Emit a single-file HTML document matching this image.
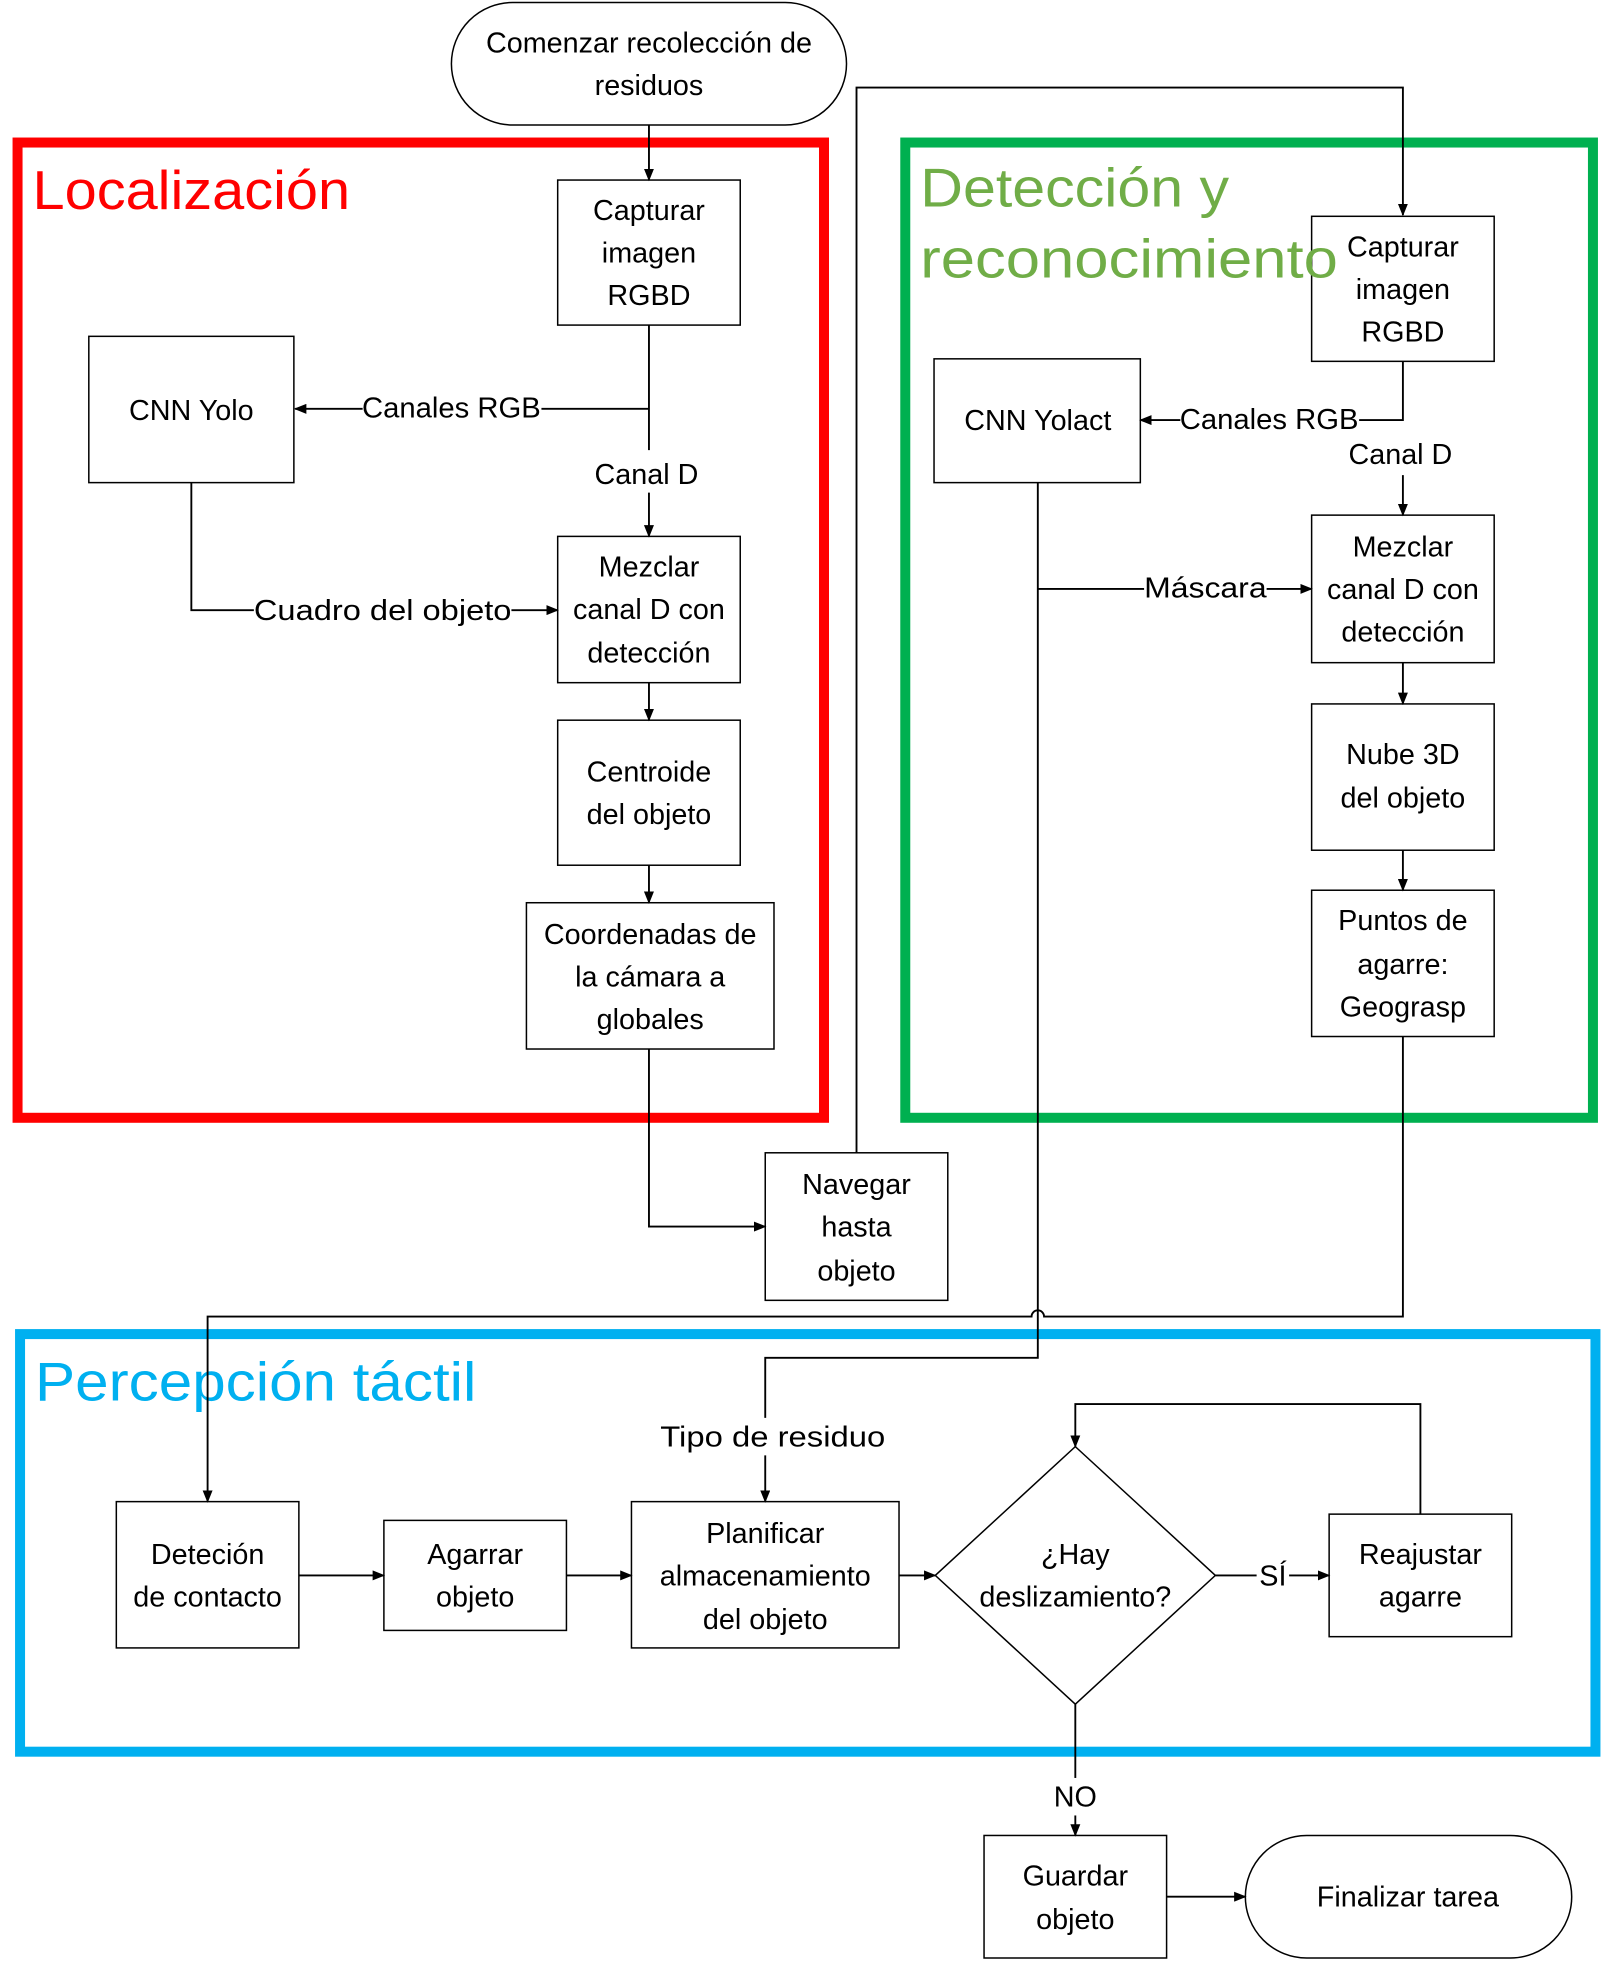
<!DOCTYPE html>
<html><head><meta charset="utf-8"><style>html,body{margin:0;padding:0;background:#fff}svg{display:block}</style></head><body>
<svg width="1608" height="1968" viewBox="0 0 1286 1574" xmlns="http://www.w3.org/2000/svg" font-family="Liberation Sans, sans-serif">
<defs><marker id="a" markerWidth="10" markerHeight="8" refX="9" refY="4" orient="auto" markerUnits="userSpaceOnUse"><path d="M0,0 L10,4 L0,8z" fill="#000"/></marker></defs>
<g fill="none" stroke-width="8">
<rect x="14" y="114" width="645" height="780" stroke="#ff0000"/>
<rect x="724" y="114" width="550" height="780" stroke="#00b050"/>
<rect x="16" y="1067" width="1260" height="334" stroke="#00b0f0"/>
</g>
<g fill="#fff" stroke="#000" stroke-width="1.2">
<rect x="361" y="2" width="316" height="98" rx="49"/>
<rect x="446" y="144" width="146" height="116"/>
<rect x="71" y="269" width="164" height="117"/>
<rect x="446" y="429" width="146" height="117"/>
<rect x="446" y="576" width="146" height="116"/>
<rect x="421" y="722" width="198" height="117"/>
<rect x="612" y="922" width="146" height="118"/>
<rect x="1049" y="173" width="146" height="116"/>
<rect x="747" y="287" width="165" height="99"/>
<rect x="1049" y="412" width="146" height="118"/>
<rect x="1049" y="563" width="146" height="117"/>
<rect x="1049" y="712" width="146" height="117"/>
<rect x="93" y="1201" width="146" height="117"/>
<rect x="307" y="1216" width="146" height="88"/>
<rect x="505" y="1201" width="214" height="117"/>
<polygon points="860,1157 972,1260 860,1363 748,1260"/>
<rect x="1063" y="1211" width="146" height="98"/>
<rect x="787" y="1468" width="146" height="98"/>
<rect x="996" y="1468" width="261" height="98" rx="49"/>
</g>
<g font-size="44">
<text x="26" y="167" fill="#ff0000" textLength="254" lengthAdjust="spacingAndGlyphs">Localización</text>
<text x="736" y="165" fill="#70ad47" textLength="247" lengthAdjust="spacingAndGlyphs">Detección y</text>
<text x="736" y="222" fill="#70ad47" textLength="334" lengthAdjust="spacingAndGlyphs">reconocimiento</text>
<text x="28" y="1120" fill="#00b0f0" textLength="353" lengthAdjust="spacingAndGlyphs">Percepción táctil</text>
</g>
<g fill="none" stroke="#000" stroke-width="1.5">
<path d="M519 100V144" marker-end="url(#a)"/>
<path d="M519 260V360M519 394V429" marker-end="url(#a)"/>
<path d="M519 327H236" marker-end="url(#a)"/>
<path d="M153 386V488H446" marker-end="url(#a)"/>
<path d="M519 546V576" marker-end="url(#a)"/>
<path d="M519 692V722" marker-end="url(#a)"/>
<path d="M519 839V981H612" marker-end="url(#a)"/>
<path d="M685 922V70H1122V172" marker-end="url(#a)"/>
<path d="M1122 289V336H912" marker-end="url(#a)"/>
<path d="M1122 380V412" marker-end="url(#a)"/>
<path d="M830 471H1049" marker-end="url(#a)"/>
<path d="M1122 530V563" marker-end="url(#a)"/>
<path d="M1122 680V712" marker-end="url(#a)"/>
<path d="M1122 829V1053H835A5 5 0 0 0 825 1053H166V1201" marker-end="url(#a)"/>
<path d="M830 386V1086H612V1201" marker-end="url(#a)"/>
<path d="M239 1260H307" marker-end="url(#a)"/>
<path d="M453 1260H505" marker-end="url(#a)"/>
<path d="M719 1260H748" marker-end="url(#a)"/>
<path d="M972 1260H1063" marker-end="url(#a)"/>
<path d="M1136 1211V1123H860V1157" marker-end="url(#a)"/>
<path d="M860 1363V1468" marker-end="url(#a)"/>
<path d="M933 1517H996" marker-end="url(#a)"/>
</g>
<g font-size="23" text-anchor="middle" fill="#000">
<rect x="290" y="312" width="143" height="28" fill="#fff"/>
<text x="361" y="334" textLength="143" lengthAdjust="spacingAndGlyphs">Canales RGB</text>
<rect x="470" y="362" width="95" height="30" fill="#fff"/>
<text x="517" y="387">Canal D</text>
<rect x="203" y="474" width="206" height="28" fill="#fff"/>
<text x="306" y="496" textLength="206" lengthAdjust="spacingAndGlyphs">Cuadro del objeto</text>
<rect x="944" y="321" width="143" height="28" fill="#fff"/>
<text x="1015" y="343" textLength="143" lengthAdjust="spacingAndGlyphs">Canales RGB</text>
<rect x="1073" y="348" width="95" height="30" fill="#fff"/>
<text x="1120" y="371">Canal D</text>
<rect x="915" y="456" width="98" height="28" fill="#fff"/>
<text x="964" y="478" textLength="98" lengthAdjust="spacingAndGlyphs">Máscara</text>
<rect x="527" y="1134" width="182" height="30" fill="#fff"/>
<text x="618" y="1157" textLength="180" lengthAdjust="spacingAndGlyphs">Tipo de residuo</text>
<rect x="1005" y="1246" width="26" height="28" fill="#fff"/>
<text x="1018" y="1268">SÍ</text>
<rect x="840" y="1422" width="40" height="30" fill="#fff"/>
<text x="860" y="1445">NO</text>
<text x="519" y="42">Comenzar recolección de</text><text x="519" y="76">residuos</text>
<text x="519" y="176">Capturar</text><text x="519" y="210">imagen</text><text x="519" y="244">RGBD</text>
<text x="153" y="336">CNN Yolo</text>
<text x="519" y="461">Mezclar</text><text x="519" y="495">canal D con</text><text x="519" y="530">detección</text>
<text x="519" y="625">Centroide</text><text x="519" y="659">del objeto</text>
<text x="520" y="755">Coordenadas de</text><text x="520" y="789">la cámara a</text><text x="520" y="823">globales</text>
<text x="685" y="955">Navegar</text><text x="685" y="989">hasta</text><text x="685" y="1024">objeto</text>
<text x="1122" y="205">Capturar</text><text x="1122" y="239">imagen</text><text x="1122" y="273">RGBD</text>
<text x="830" y="344">CNN Yolact</text>
<text x="1122" y="445">Mezclar</text><text x="1122" y="479">canal D con</text><text x="1122" y="513">detección</text>
<text x="1122" y="611">Nube 3D</text><text x="1122" y="646">del objeto</text>
<text x="1122" y="744">Puntos de</text><text x="1122" y="779">agarre:</text><text x="1122" y="813">Geograsp</text>
<text x="166" y="1251">Deteción</text><text x="166" y="1285">de contacto</text>
<text x="380" y="1251">Agarrar</text><text x="380" y="1285">objeto</text>
<text x="612" y="1234">Planificar</text><text x="612" y="1268">almacenamiento</text><text x="612" y="1303">del objeto</text>
<text x="860" y="1251">¿Hay</text><text x="860" y="1285">deslizamiento?</text>
<text x="1136" y="1251">Reajustar</text><text x="1136" y="1285">agarre</text>
<text x="860" y="1508">Guardar</text><text x="860" y="1543">objeto</text>
<text x="1126" y="1525">Finalizar tarea</text>
</g>
</svg>
</body></html>
